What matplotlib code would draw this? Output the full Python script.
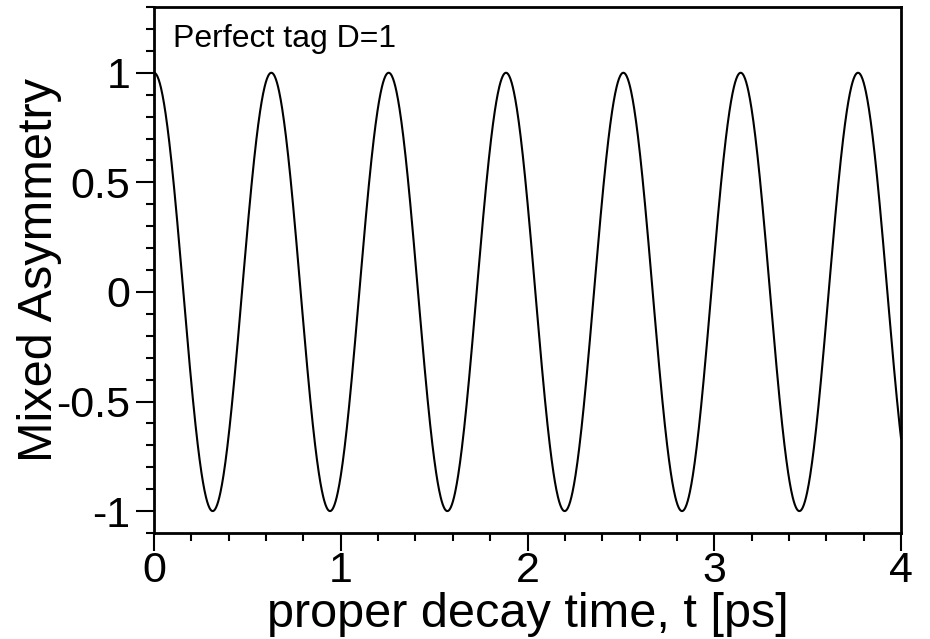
import numpy as np
import matplotlib
matplotlib.use("Agg")
import matplotlib.pyplot as plt
from matplotlib.ticker import MultipleLocator

# model parameters (perfect tagging, B_s-like oscillation)
delta_m = 10.0      # ps^-1
dilution = 1.0
t_range = [0.0, 4.0]

x_ticks = [0, 1, 2, 3, 4]
y_ticks = [-1, -0.5, 0, 0.5, 1]
y_ticklabels = ["-1", "-0.5", "0", "0.5", "1"]

t = np.linspace(t_range[0], t_range[1], 2000)
asym = dilution * np.cos(delta_m * t)

plt.rcParams['font.family'] = ['Liberation Sans', 'DejaVu Sans']

fig = plt.figure(figsize=(9.3, 6.39), dpi=100)
ax = fig.add_axes([154/930, 1 - 533/639, (901 - 154)/930, (533 - 7)/639])

ax.plot(t, asym, color='black', lw=1.5)

ax.set_xlim(0, 4)
ax.set_ylim(-1.1, 1.3)
ax.set_xticks(x_ticks)
ax.set_yticks(y_ticks)
ax.set_yticklabels(y_ticklabels)
ax.xaxis.set_minor_locator(MultipleLocator(0.2))
ax.yaxis.set_minor_locator(MultipleLocator(0.1))

ax.tick_params(which='major', direction='out', length=13, width=1.5, labelsize=31, pad=4)
ax.tick_params(axis='x', which='major', pad=0)
ax.tick_params(which='minor', direction='out', length=6, width=1.5)
ax.tick_params(top=False, right=False)
for s in ax.spines.values():
    s.set_linewidth(2)

ax.set_xlabel("proper decay time, t [ps]", fontsize=35)
ax.xaxis.set_label_coords(0.5, -0.112)
ax.set_ylabel("Mixed Asymmetry", fontsize=35)
ax.yaxis.set_label_coords(-0.123, 0.5)

ax.text(0.025, 0.967, "Perfect tag D=1", transform=ax.transAxes,
        fontsize=23, ha='left', va='top')

fig.savefig("out.png", dpi=100)
